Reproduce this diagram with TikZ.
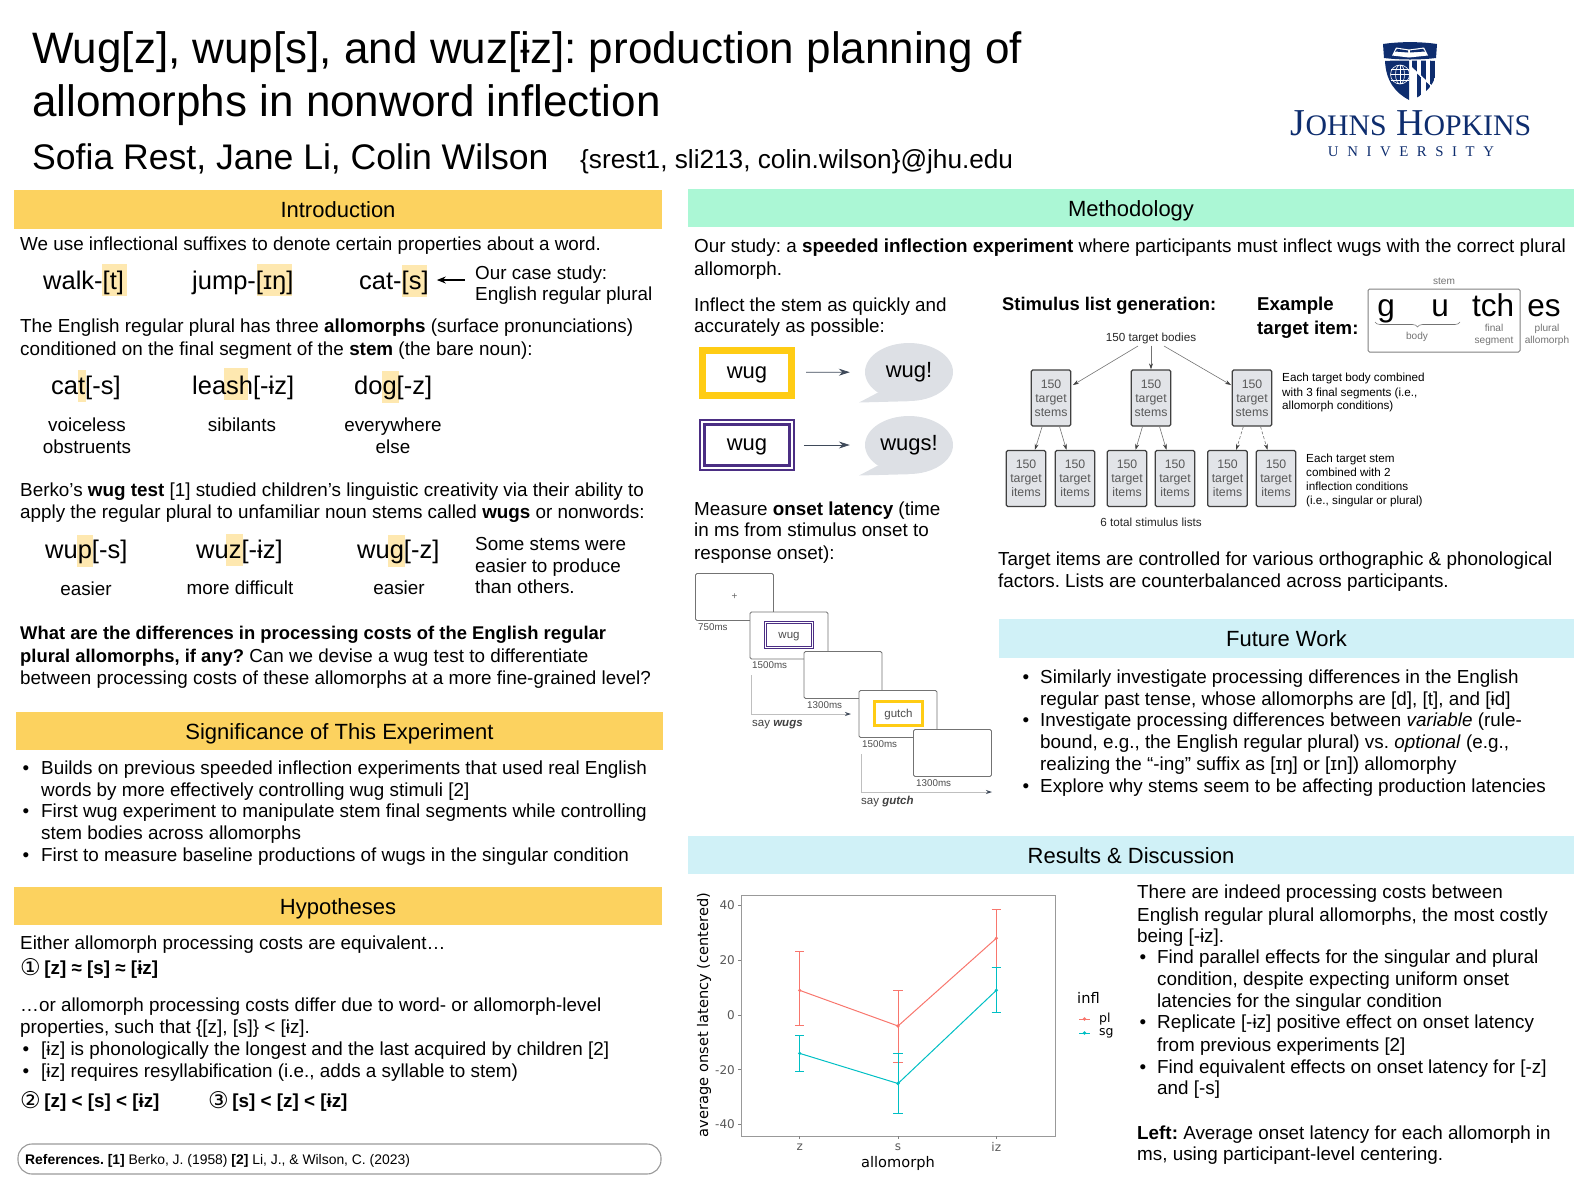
\documentclass[tikz,border=0pt]{standalone}
\usepackage{fontspec}
\setmainfont{Liberation Sans}
\newfontfamily\symfont{DejaVu Sans}
\newfontfamily\logofont{Liberation Serif}
\newfontfamily\logospaced[LetterSpace=58]{Liberation Serif}
\usetikzlibrary{arrows.meta,shapes.geometric,decorations.pathreplacing}
\definecolor{bandyellow}{HTML}{FCD25F}
\definecolor{bandgreen}{HTML}{ABF7D5}
\definecolor{bandblue}{HTML}{D0F1F7}
\definecolor{marker}{HTML}{FEE8B0}
\definecolor{jhunavy}{HTML}{0E2D6E}
\definecolor{slate}{HTML}{3F4A5A}
\definecolor{bubblegray}{HTML}{DDE0E5}
\definecolor{boxgray}{HTML}{E2E4E8}
\definecolor{stimyellow}{HTML}{FFCC14}
\definecolor{stimpurple}{HTML}{4B2E83}
\definecolor{plred}{HTML}{F8766D}
\definecolor{sgteal}{HTML}{00BFC4}
\tikzset{
    band/.style={inner sep=0pt,font=\fontsize{22}{26}\selectfont,text height=20pt,text depth=4pt},
    bodyline/.style={anchor=west,inner sep=0pt,font=\fontsize{18.85}{23}\selectfont,text height=14pt,text depth=0pt},
    bigword/.style={anchor=west,inner sep=0pt,font=\fontsize{25.5}{30}\selectfont,text height=18pt,text depth=0pt},
    smallnote/.style={anchor=west,inner sep=0pt,font=\fontsize{11.7}{14}\selectfont,text height=8.5pt,text depth=0pt},
    mslabel/.style={anchor=west,inner sep=0pt,font=\fontsize{9.8}{12}\selectfont,text height=7pt,text depth=0pt,text=black!70},
    saylabel/.style={anchor=west,inner sep=0pt,font=\fontsize{11.5}{13}\selectfont,text height=8.5pt,text depth=0pt,text=black!75},
    bodymid/.style={bodyline,anchor=center},
    stimbox/.style={inner sep=0pt,font=\fontsize{22}{26}\selectfont,text height=15pt,text depth=4pt},
    tinystim/.style={font=\fontsize{11.5}{14}\selectfont,text height=10pt,text depth=3pt,text=black!70},
    tipflow/.style={slate,line width=0.8pt,-{Stealth[length=11pt,width=7pt]}},
    slide/.style={draw=black!55,fill=white,line width=0.9pt,rounded corners=1.5pt,minimum width=78pt,minimum height=47pt},
    listbox/.style={draw=black!75,fill=boxgray,line width=1.3pt,rounded corners=1.5pt,minimum width=39.5pt,minimum height=56pt,inner sep=0pt,align=center,text=black!65,font=\fontsize{12.3}{14.1}\selectfont},
    treeflow/.style={black!55,line width=0.6pt,-{Stealth[length=6pt,width=4pt,color=black!75]}},
    timeline/.style={black!25,line width=0.8pt,-{Stealth[length=6pt,width=4pt,color=slate]}},
    graynote/.style={inner sep=0pt,align=center,text=black!55,font=\fontsize{10.1}{12.4}\selectfont},
    plotlabel/.style={inner sep=0pt,font=\symfont\fontsize{14.6}{18}\selectfont},
    plottick/.style={inner sep=0pt,text=black!65,font=\symfont\fontsize{12}{14}\selectfont},
    plotline/.style={line width=1pt},
}
\newcommand{\circnum}[1]{\raisebox{-1.5pt}{\symfont\fontsize{23}{23}\selectfont #1}\hspace{3.5pt}}
\newcommand{\tightbold}[1]{{\fontsize{18.4}{23}\selectfont\textbf{#1}}}
\begin{document}
\frenchspacing
\begin{tikzpicture}[x=1pt,y=-1pt]
    \useasboundingbox (0,0) rectangle (1590,1195);

    % header
    \node[anchor=west,inner sep=0pt,font=\fontsize{44}{53}\selectfont,text height=33pt,text depth=0pt] (title1) at (32,47) {Wug[z], wup[s], and wuz[ɨz]: production planning of};
    \node[anchor=west,inner sep=0pt,font=\fontsize{44}{53}\selectfont,text height=33pt,text depth=0pt] (title2) at (32,100) {allomorphs in nonword inflection};
    \node[anchor=west,inner sep=0pt,font=\fontsize{35.6}{43}\selectfont,text height=26pt,text depth=0pt] (authors) at (32,156) {Sofia Rest, Jane Li, Colin Wilson};
    \node[anchor=west,inner sep=0pt,font=\fontsize{26.2}{31}\selectfont,text height=19pt,text depth=0pt] (emails) at (580,159) {\{srest1, sli213, colin.wilson\}@jhu.edu};

    % logo
    \fill[jhunavy] (1383,44) .. controls (1400,41.5) and (1420,41.5) .. (1437,44) -- (1436,58) .. controls (1420,60) and (1400,60) .. (1384,58) -- cycle;
    \fill[white] (1392,55.5) -- (1396,47.5) -- (1409,49.5) -- (1424,47.5) -- (1428,55.5) -- (1409,57.5) -- cycle;
    \fill[jhunavy] (1395,51.5) -- (1397,48.8) -- (1408,50.5) -- (1408,52.5) -- cycle;
    \fill[jhunavy] (1425,51.5) -- (1423,48.8) -- (1410,50.5) -- (1410,52.5) -- cycle;
    \fill[jhunavy] (1385,61) .. controls (1393,60.5) and (1401,60.5) .. (1409,60.5) -- (1409,100) .. controls (1396,93) and (1386,82) .. cycle;
    \draw[white,line width=0.6pt] (1400,74.5) circle (9.5pt) ellipse (4.5pt and 9.5pt);
    \foreach \yy in {69,74.5,80} { \draw[white,line width=0.5pt] (1391,\yy) -- (1409,\yy); }
    \draw[white,line width=0.5pt] (1400,65) -- (1400,84);
    \begin{scope}
        \clip (1412,60.5) .. controls (1420,60.5) and (1428,60.5) .. (1436,61) -- (1435.5,76) .. controls (1432,88) and (1423,95) .. (1412,100) -- cycle;
        \begin{scope}
            \clip (1412,60) -- (1437,60) -- (1437,90) -- (1412,67) -- cycle;
            \foreach \xx in {1412,1421,1430} { \fill[jhunavy] (\xx,60) rectangle (\xx+4.5,92); }
        \end{scope}
        \begin{scope}
            \clip (1412,69) -- (1437,92) -- (1437,101) -- (1412,101) -- cycle;
            \foreach \xx in {1416.5,1425.5,1434.5} { \fill[jhunavy] (\xx,68) rectangle (\xx+4.5,101); }
        \end{scope}
    \end{scope}
    \node[inner sep=0pt,text=jhunavy,font=\logofont\fontsize{38}{44}\selectfont] (jhuname) at (1411,123) {J{\fontsize{29.8}{36}\selectfont OHNS} H{\fontsize{29.8}{36}\selectfont OPKINS}};
    \node[inner sep=0pt,text=jhunavy,font=\logospaced\fontsize{14.8}{18}\selectfont] (jhuuni) at (1411,152) {UNIVERSITY};

    % section bands
    \node[band,fill=bandyellow,minimum width=648pt,minimum height=39pt] (intro) at (338,209.5) {Introduction};
    \node[band,fill=bandyellow,minimum width=647pt,minimum height=38pt] (signif) at (339.5,731) {Significance of This Experiment};
    \node[band,fill=bandyellow,minimum width=648pt,minimum height=38pt] (hypo) at (338,906) {Hypotheses};
    \node[band,fill=bandgreen,minimum width=886pt,minimum height=38pt] (method) at (1131,208) {Methodology};
    \node[band,fill=bandblue,minimum width=575pt,minimum height=39pt] (future) at (1286.5,638.5) {Future Work};
    \node[band,fill=bandblue,minimum width=886pt,minimum height=38pt] (results) at (1131,855) {Results \& Discussion};

    % highlighted segments
    \fill[marker] (102,264) rectangle (127,296);
    \fill[marker] (257,264) rectangle (292,296);
    \fill[marker] (402,265) rectangle (427,297);
    \fill[marker] (78,370) rectangle (86,402);
    \fill[marker] (224,368) rectangle (248,400);
    \fill[marker] (382,371) rectangle (399,403);
    \fill[marker] (77,535) rectangle (93,567);
    \fill[marker] (226,534) rectangle (243,566);
    \fill[marker] (388,535) rectangle (405,567);

    % introduction
    \node[bodyline] (usetext) at (20,243) {We use inflectional suffixes to denote certain properties about a word.};
    \node[bigword] (walk) at (43,280) {walk-[t]};
    \node[bigword] (jump) at (192,280) {jump-[ɪŋ]};
    \node[bigword] (catA) at (359,280) {cat-[s]};
    \node[bodyline] (caseA) at (475,272) {Our case study:};
    \node[bodyline] (caseB) at (475,293) {English regular plural};
    \coordinate (caseArrow) at (465,280);
    \draw[black,line width=1.2pt,shorten >=8pt,-{Stealth[length=9pt,width=7pt]}] (caseArrow) -- (catA.east);
    \foreach \yy/\txt in {325/{The English regular plural has three \textbf{allomorphs} (surface pronunciations)},
                          348/{conditioned on the final segment of the \textbf{stem} (the bare noun):},
                          489/{Berko’s \textbf{wug test} [1] studied children’s linguistic creativity via their ability to},
                          511/{apply the regular plural to unfamiliar noun stems called \textbf{wugs} or nonwords:},
                          632/{\tightbold{What are the differences in processing costs of the English regular}},
                          655/{\tightbold{plural allomorphs, if any?} Can we devise a wug test to differentiate},
                          677/{between processing costs of these allomorphs at a more fine-grained level?}} {
        \node[bodyline] (intro\yy) at (20,\yy) {\txt};
    }
    \node[bigword] (catB) at (51,385) {cat[-s]};
    \node[bigword] (leash) at (192,385) {leash[-ɨz]};
    \node[bigword] (dog) at (354,385) {dog[-z]};
    \node[bodymid] (voiceA) at (87,424) {voiceless};
    \node[bodymid] (voiceB) at (87,446) {obstruents};
    \node[bodymid] (sibil) at (242,424) {sibilants};
    \node[bodymid] (elseA) at (393,424) {everywhere};
    \node[bodymid] (elseB) at (393,446) {else};
    \node[bigword] (wup) at (45,549) {wup[-s]};
    \node[bigword] (wuz) at (196,549) {wuz[-ɨz]};
    \node[bigword] (wug) at (357,549) {wug[-z]};
    \node[bodymid] (easyA) at (86,588) {easier};
    \node[bodymid] (hard) at (240,587) {more difficult};
    \node[bodymid] (easyB) at (399,587) {easier};
    \foreach \yy/\txt in {543/{Some stems were},565/{easier to produce},586/{than others.}} {
        \node[bodyline] (some\yy) at (475,\yy) {\txt};
    }

    % significance
    \foreach \yy/\txt in {767/{Builds on previous speeded inflection experiments that used real English},
                          789/{words by more effectively controlling wug stimuli [2]},
                          810/{First wug experiment to manipulate stem final segments while controlling},
                          832/{stem bodies across allomorphs},
                          854/{First to measure baseline productions of wugs in the singular condition}} {
        \node[bodyline] (signif\yy) at (41,\yy) {\txt};
    }
    \foreach \yy in {767,810,854} { \node[bodymid] (dotA\yy) at (26,\yy) {•}; }

    % hypotheses
    \node[bodyline] (equiv) at (20,942) {Either allomorph processing costs are equivalent…};
    \node[bodyline] (hypA) at (20,967) {\circnum{①}\textbf{[z] ≈ [s] ≈ [ɨz]}};
    \node[bodyline] (differA) at (20,1004) {…or allomorph processing costs differ due to word- or allomorph-level};
    \node[bodyline] (differB) at (20,1026) {properties, such that \{[z], [s]\} < [ɨz].};
    \node[bodyline] (reasonA) at (41,1048) {[ɨz] is phonologically the longest and the last acquired by children [2]};
    \node[bodyline] (reasonB) at (41,1070) {[ɨz] requires resyllabification (i.e., adds a syllable to stem)};
    \foreach \yy in {1048,1070} { \node[bodymid] (dotB\yy) at (26,\yy) {•}; }
    \node[bodyline] (hypB) at (20,1100) {\circnum{②}\textbf{[z] < [s] < [ɨz]}};
    \node[bodyline] (hypC) at (208,1100) {\circnum{③}\textbf{[s] < [z] < [ɨz]}};
    \draw[black!40,line width=1.1pt,rounded corners=14pt] (18,1144) rectangle (661,1174);
    \node[anchor=west,inner sep=0pt,font=\fontsize{13.9}{17}\selectfont,text height=10pt,text depth=0pt] (refs) at (25,1159) {\textbf{References. [1]} Berko, J. (1958) \textbf{[2]} Li, J., \& Wilson, C. (2023)};

    % methodology, left side
    \node[bodyline] (studyA) at (694,245) {Our study: a \textbf{speeded inflection experiment} where participants must inflect wugs with the correct plural};
    \node[bodyline] (studyB) at (694,268) {allomorph.};
    \node[bodyline] (inflectA) at (694,304) {Inflect the stem as quickly and};
    \node[bodyline] (inflectB) at (694,325) {accurately as possible:};
    \node[stimbox,draw=stimyellow,line width=7pt,minimum width=89pt,minimum height=45pt] (boxsg) at (747,372.5) {wug};
    \node[stimbox,draw=stimpurple,line width=2.2pt,double=white,double distance=2.4pt,minimum width=89.5pt,minimum height=45.5pt] (boxpl) at (747,445) {wug};
    \node[stimbox,ellipse,fill=bubblegray,minimum width=88pt,minimum height=58pt] (saysg) at (909,372) {wug!};
    \node[stimbox,ellipse,fill=bubblegray,minimum width=88pt,minimum height=58pt] (saypl) at (909,445) {wugs!};
    \fill[bubblegray] (saysg.south west) -- (859,402.5) -- (saysg.south) -- cycle;
    \fill[bubblegray] (saypl.south west) -- (859,475.5) -- (saypl.south) -- cycle;
    \draw[tipflow,shorten <=11pt,shorten >=15pt] (boxsg) -- (saysg);
    \draw[tipflow,shorten <=11pt,shorten >=15pt] (boxpl) -- (saypl);
    \node[bodyline] (measureA) at (694,508) {Measure \textbf{onset latency} (time};
    \node[bodyline] (measureB) at (694,529) {in ms from stimulus onset to};
    \node[bodyline] (measureC) at (694,552) {response onset):};

    % trial timeline
    \node[slide] (fix) at (734.5,597) {\fontsize{10}{12}\selectfont\textcolor{black!60}{+}};
    \node[slide] (stimA) at (789,635.5) {};
    \node[stimbox,tinystim,draw=stimpurple,line width=1pt,double=white,double distance=1.2pt,minimum width=47pt,minimum height=24.5pt] (wugA) at (789,635) {wug};
    \node[slide] (blankA) at (843,675) {};
    \node[slide] (stimB) at (898,714) {};
    \node[stimbox,tinystim,draw=stimyellow,line width=3pt,minimum width=48pt,minimum height=24pt] (wugB) at (898.5,713.5) {gutch};
    \node[slide] (blankB) at (952.5,753) {};
    \node[mslabel] (msA) at (698,627) {750ms};
    \node[mslabel] (msB) at (752,665) {1500ms};
    \node[mslabel] (msC) at (807,705) {1300ms};
    \node[mslabel] (msD) at (862,744) {1500ms};
    \node[mslabel] (msE) at (916,783) {1300ms};
    \coordinate (startA) at (751,675);
    \coordinate (endA) at (851,714);
    \coordinate (startB) at (861,754);
    \coordinate (endB) at (992,792);
    \draw[timeline] (startA) |- (endA);
    \draw[timeline] (startB) |- (endB);
    \node[saylabel] (sayA) at (752,722) {say \textbf{\textit{wugs}}};
    \node[saylabel] (sayB) at (861,800) {say \textbf{\textit{gutch}}};

    % stimulus list generation
    \node[bodyline,font=\bfseries\fontsize{18.35}{23}\selectfont] (listhead) at (1002,303) {Stimulus list generation:};
    \node[bodyline,font=\bfseries\fontsize{18.6}{23}\selectfont] (exA) at (1257,303) {Example};
    \node[bodyline,font=\bfseries\fontsize{18.6}{23}\selectfont] (exB) at (1257,327) {target item:};
    \draw[black!50,line width=1pt,rounded corners=1.5pt] (1368,289) rectangle (1520,352);
    \foreach \name/\xx/\txt in {letg/1386/g,letu/1440/u,lettch/1493/tch,letes/1544/es} {
        \node[inner sep=0pt,font=\fontsize{31.5}{38}\selectfont,text height=23pt,text depth=0pt] (\name) at (\xx,305) {\txt};
    }
    \node[graynote] (stemnote) at (1444,281) {stem};
    \node[graynote] (bodynote) at (1417,337) {body};
    \node[graynote] (finalnote) at (1494,335) {final\\segment};
    \node[graynote] (pluralnote) at (1547,335) {plural\\allomorph};
    \coordinate (braceL) at (1375,322);
    \coordinate (braceR) at (1460,322);
    \draw[black!55,line width=0.6pt,decorate,decoration={brace,mirror,amplitude=5pt}] (braceL) -- (braceR);
    \node[inner sep=0pt,text=black!85,font=\fontsize{11.7}{14}\selectfont] (bodies) at (1151,338) {150 target bodies};
    \foreach \name/\xx in {stemA/1051,stemB/1151,stemC/1252} {
        \node[listbox] (\name) at (\xx,398) {150\\target\\stems};
    }
    \foreach \name/\xx in {itemA/1026,itemB/1075,itemC/1127,itemD/1175,itemE/1227.5,itemF/1276} {
        \node[listbox] (\name) at (\xx,478.5) {150\\target\\items};
    }
    \coordinate (bodiesL) at (1138,346);
    \coordinate (stemAin) at (1073,385);
    \coordinate (bodiesR) at (1164,346);
    \coordinate (stemCin) at (1231,385);
    \draw[treeflow] (bodiesL) -- (stemAin);
    \draw[treeflow,shorten <=2pt] (bodies.south) -- (stemB.north);
    \draw[treeflow] (bodiesR) -- (stemCin);
    \foreach \from/\to in {stemA/itemA,stemA/itemB,stemB/itemC,stemB/itemD} {
        \draw[treeflow] (\from) -- (\to);
    }
    \foreach \from/\to in {stemC/itemE,stemC/itemF} {
        \draw[treeflow,densely dashed] (\from) -- (\to);
    }
    \foreach \yy/\txt in {377/{Each target body combined},392/{with 3 final segments (i.e.,},405/{allomorph conditions)}} {
        \node[smallnote] (noteA\yy) at (1282,\yy) {\txt};
    }
    \foreach \yy/\txt in {458/{Each target stem},472/{combined with 2},486/{inflection conditions},500/{(i.e., singular or plural)}} {
        \node[smallnote] (noteB\yy) at (1306,\yy) {\txt};
    }
    \node[inner sep=0pt,text=black!85,font=\fontsize{11.7}{14}\selectfont] (totallists) at (1151,522) {6 total stimulus lists};
    \node[bodyline] (controlA) at (998,558) {Target items are controlled for various orthographic \& phonological};
    \node[bodyline] (controlB) at (998,580) {factors. Lists are counterbalanced across participants.};

    % future work
    \foreach \yy/\txt in {676/{Similarly investigate processing differences in the English},
                          698/{regular past tense, whose allomorphs are [d], [t], and [ɨd]},
                          719/{Investigate processing differences between \textit{variable} (rule-},
                          741/{bound, e.g., the English regular plural) vs. \textit{optional} (e.g.,},
                          763/{realizing the “-ing” suffix as [ɪŋ] or [ɪn]) allomorphy},
                          785/{Explore why stems seem to be affecting production latencies}} {
        \node[bodyline] (future\yy) at (1040,\yy) {\txt};
    }
    \foreach \yy in {676,719,785} { \node[bodymid] (dotC\yy) at (1026,\yy) {•}; }

    % results text
    \foreach \yy/\txt in {891/{There are indeed processing costs between},
                          914/{English regular plural allomorphs, the most costly},
                          935/{being [-ɨz].},
                          1132/{\textbf{Left:} Average onset latency for each allomorph in},
                          1153/{ms, using participant-level centering.}} {
        \node[bodyline] (disc\yy) at (1137,\yy) {\txt};
    }
    \foreach \yy/\txt in {956/{Find parallel effects for the singular and plural},
                          978/{condition, despite expecting uniform onset},
                          1000/{latencies for the singular condition},
                          1021/{Replicate [-ɨz] positive effect on onset latency},
                          1044/{from previous experiments [2]},
                          1066/{Find equivalent effects on onset latency for [-z]},
                          1087/{and [-s]}} {
        \node[bodyline] (disc\yy) at (1157,\yy) {\txt};
    }
    \foreach \yy in {956,1021,1066} { \node[bodymid] (dotD\yy) at (1143,\yy) {•}; }

    % plot
    \begin{scope}[shift={(0pt,-1015pt)},y=2.74pt]
        \foreach \xx/\mm/\lo/\hi in {799.7/9/-4/23,898/-4/-17.5/9,996.3/28/17.5/38.5} {
            \draw[plred,plotline] (\xx,\lo) -- (\xx,\hi);
            \draw[plred,plotline] (\xx-4.7,\lo) -- (\xx+4.7,\lo);
            \draw[plred,plotline] (\xx-4.7,\hi) -- (\xx+4.7,\hi);
            \fill[plred] (\xx,\mm) circle (1.8pt);
        }
        \draw[plred,plotline] (799.7,9) -- (898,-4) -- (996.3,28);
        \foreach \xx/\mm/\lo/\hi in {799.7/-14/-20.5/-7.5,898/-25/-36/-14,996.3/9/1/17.5} {
            \draw[sgteal,plotline] (\xx,\lo) -- (\xx,\hi);
            \draw[sgteal,plotline] (\xx-4.7,\lo) -- (\xx+4.7,\lo);
            \draw[sgteal,plotline] (\xx-4.7,\hi) -- (\xx+4.7,\hi);
            \fill[sgteal] (\xx,\mm) circle (1.8pt);
        }
        \draw[sgteal,plotline] (799.7,-14) -- (898,-25) -- (996.3,9);
        \foreach \v in {-40,-20,0,20,40} {
            \draw[black!50,line width=0.7pt] (738,\v) -- (741,\v);
            \node[plottick,anchor=east] (tick\v) at (735,\v) {\v};
        }
    \end{scope}
    \draw[black!40,line width=1pt] (741,895) rectangle (1055,1136);
    \foreach \xx/\txt in {799.7/z,898/s,996.3/iz} {
        \draw[black!50,line width=0.7pt] (\xx,1136) -- (\xx,1139);
        \node[plottick] (lab\txt) at (\xx,1147) {\txt};
    }
    \node[plotlabel] (xname) at (898,1163) {allomorph};
    \node[plotlabel,rotate=90] (yname) at (704,1015) {average onset latency (centered)};
    \node[plotlabel,anchor=west] (legname) at (1077,998) {infl};
    \draw[plred,plotline] (1079,1019) -- (1090,1019);
    \fill[plred] (1084.5,1019) circle (1.8pt);
    \node[plottick,anchor=west,text=black,font=\symfont\fontsize{12.5}{15}\selectfont] (legpl) at (1099,1019) {pl};
    \draw[sgteal,plotline] (1079,1033) -- (1090,1033);
    \fill[sgteal] (1084.5,1033) circle (1.8pt);
    \node[plottick,anchor=west,text=black,font=\symfont\fontsize{12.5}{15}\selectfont] (legsg) at (1099,1033) {sg};
\end{tikzpicture}
\end{document}
